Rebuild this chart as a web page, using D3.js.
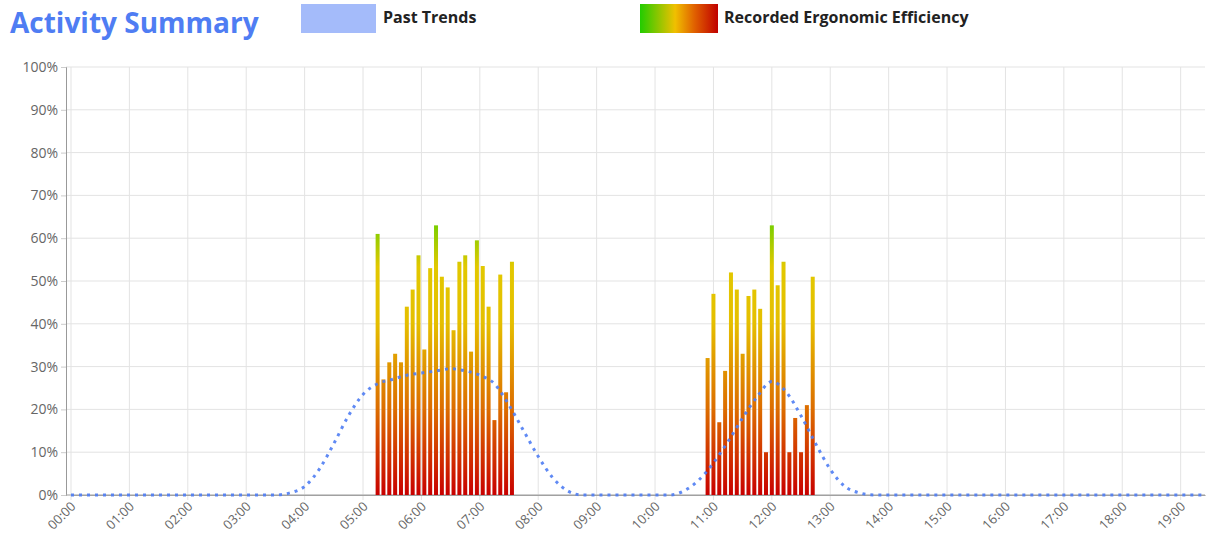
<!DOCTYPE html>
<html><head><meta charset="utf-8">
<script src="https://cdn.jsdelivr.net/npm/d3@7"></script>
<style>body{margin:0;background:#fff;font-family:"Open Sans",Arial,sans-serif;}</style>
</head><body>
<script>
// recorded bars: start time + 6 min steps, values in %
var group1Start = '05:15', group2Start = '10:54', stepMin = 6;
var group1 = [61,27,31,33,31,44,48,56,34,53,63,51,48.5,38.5,54.5,56,33.5,59.5,53.5,44,17.5,51.5,24,54.5];
var group2 = [32,47,17,29,52,48,33,46.5,48,43.5,10,63,49,54.5,10,18,10,21,51];
// past trends, every 15 min
var trendTimes = ['00:00','03:30','03:45','04:00','04:15','04:30','04:45','05:00','05:15','05:30','05:45','06:00','06:15','06:30','06:45','07:00','07:15','07:30','07:45','08:00','08:15','08:30','08:45','10:15','10:30','10:45','11:00','11:15','11:30','11:45','12:00','12:15','12:30','12:45','13:00','13:15','13:30','13:45','19:25'];
var trendVals = [0,0,0.5,2,6,12,18.5,23.5,26,27,28,28.5,29,29.5,29,28,26,21,15,9,4,1,0,0,1,3.5,7.5,12.5,18,23,26.5,24,18.5,12,6,2,0.5,0,0];
var yTicks = [0,10,20,30,40,50,60,70,80,90,100];
var hourTicks = d3.range(0,20);

function toDate(s){ var p=s.split(':'); return new Date(2020,0,1,+p[0],+p[1]); }

var W=1207,H=543;
var svg=d3.select('body').append('svg').attr('width',W).attr('height',H);
var x=d3.scaleTime().domain([toDate('00:00'),toDate('19:25')]).range([71,1205]);
var y=d3.scaleLinear().domain([0,100]).range([495,67]);

var defs=svg.append('defs');
var g1=defs.append('linearGradient').attr('id','barGrad').attr('gradientUnits','userSpaceOnUse')
  .attr('x1',0).attr('x2',0).attr('y1',y(0)).attr('y2',y(65));
[[0,'#c80000'],[0.3,'#dc6a00'],[0.62,'#e5bf00'],[0.82,'#e2c800'],[1,'#66d000']].forEach(function(s){
  g1.append('stop').attr('offset',s[0]).attr('stop-color',s[1]);});
var g2=defs.append('linearGradient').attr('id','legGrad');
[[0,'#22cc00'],[0.45,'#f0c000'],[0.7,'#e06000'],[1,'#c00000']].forEach(function(s){
  g2.append('stop').attr('offset',s[0]).attr('stop-color',s[1]);});

// grid
svg.append('g').selectAll('line.h').data(yTicks).enter().append('line')
  .attr('x1',66).attr('x2',1205).attr('y1',function(d){return y(d);}).attr('y2',function(d){return y(d);})
  .style('stroke','#e3e3e3');
svg.append('g').selectAll('line.v').data(hourTicks).enter().append('line')
  .attr('x1',function(d){return x(toDate(d+':00'));}).attr('x2',function(d){return x(toDate(d+':00'));})
  .attr('y1',67).attr('y2',500).style('stroke','#e3e3e3');

// y axis
var ya=svg.append('g').attr('transform','translate(66,0)')
  .call(d3.axisLeft(y).tickValues(yTicks).tickFormat(function(d){return d+'%';}).tickSize(5));
ya.select('.domain').style('stroke','#999');
ya.selectAll('line').style('stroke','#ccc');
ya.selectAll('text').style('font-size','14px').style('fill','#666').style('font-family','"Open Sans",Arial,sans-serif');

// x axis
var xa=svg.append('g').attr('transform','translate(0,495)')
  .call(d3.axisBottom(x).tickValues(hourTicks.map(function(h){return toDate(h+':00');})).tickFormat(d3.timeFormat('%H:%M')).tickSize(0));
xa.select('.domain').style('stroke','#999');
xa.selectAll('text').attr('text-anchor','end').attr('dx',0).attr('dy',0)
  .attr('transform','translate(3,10) rotate(-45)')
  .style('font-size','13px').style('fill','#666').style('font-family','"Open Sans",Arial,sans-serif');
svg.append('line').attr('x1',66).attr('x2',1205).attr('y1',495).attr('y2',495).style('stroke','#aaa');

// bars
function barData(start,vals){ var t0=toDate(start); return vals.map(function(v,i){return {t:new Date(+t0+i*stepMin*60000),v:v};}); }
var bars=barData(group1Start,group1).concat(barData(group2Start,group2));
svg.append('g').selectAll('rect').data(bars).enter().append('rect')
  .attr('x',function(d){return x(d.t)-2;}).attr('width',4)
  .attr('y',function(d){return y(d.v);}).attr('height',function(d){return y(0)-y(d.v);})
  .style('fill','url(#barGrad)');

// trend line
var line=d3.line().x(function(d,i){return x(toDate(trendTimes[i]));}).y(function(d){return y(d);}).curve(d3.curveMonotoneX);
svg.append('path').datum(trendVals).attr('d',line).style('fill','none')
  .style('stroke','#4f7df3').style('stroke-width',3).style('stroke-dasharray','3,5').style('opacity',0.9);

// title + legend
svg.append('text').attr('x',10).attr('y',33).text('Activity Summary')
  .style('font-size','28px').style('font-weight','bold').style('fill','#4f7df3').style('font-family','"Open Sans",Arial,sans-serif');
svg.append('rect').attr('x',301).attr('y',4).attr('width',75).attr('height',29).style('fill','#a4bbfa');
svg.append('text').attr('x',383).attr('y',23).text('Past Trends').style('font-size','16px').style('font-weight','bold').style('fill','#222');
svg.append('rect').attr('x',640).attr('y',4).attr('width',78).attr('height',29).style('fill','url(#legGrad)');
svg.append('text').attr('x',724).attr('y',23).text('Recorded Ergonomic Efficiency').style('font-size','16px').style('font-weight','bold').style('fill','#222');
</script>
</body></html>
